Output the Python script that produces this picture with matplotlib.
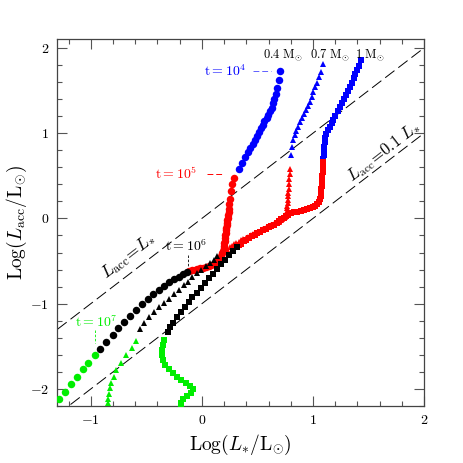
import numpy as np
import matplotlib
matplotlib.use("Agg")
import matplotlib.pyplot as plt
from matplotlib.ticker import MultipleLocator

plt.rcParams['font.family'] = 'serif'
plt.rcParams['font.serif'] = ['cmr10', 'DejaVu Serif']
plt.rcParams['mathtext.fontset'] = 'cm'
plt.rcParams['axes.formatter.use_mathtext'] = True

# 0.4 Msun track (circles)
circ_blue_x = [0.705, 0.69, 0.675, 0.663, 0.652, 0.64, 0.628, 0.613, 0.597, 0.582, 0.563,
               0.547, 0.53, 0.513, 0.495, 0.477, 0.458, 0.437, 0.415, 0.39, 0.362, 0.335]
circ_blue_y = [1.731, 1.62, 1.53, 1.46, 1.40, 1.35, 1.30, 1.255, 1.215, 1.18, 1.146,
               1.10, 1.055, 1.01, 0.965, 0.92, 0.875, 0.83, 0.78, 0.72, 0.655, 0.575]
circ_red_x = [0.29, 0.271, 0.266, 0.253, 0.248, 0.244, 0.240, 0.235, 0.232, 0.229, 0.226,
              0.223, 0.220, 0.217, 0.214, 0.211, 0.208, 0.205, 0.202, 0.199, 0.195, 0.19,
              0.183, 0.175, 0.163, 0.148, 0.13, 0.108, 0.085, 0.06, 0.035, 0.01, -0.015,
              -0.04, -0.065, -0.09, -0.112]
circ_red_y = [0.48, 0.406, 0.319, 0.230, 0.172, 0.11, 0.07, 0.04, 0.01, -0.02, -0.05,
              -0.08, -0.11, -0.14, -0.17, -0.20, -0.23, -0.26, -0.29, -0.32, -0.35, -0.38,
              -0.41, -0.44, -0.47, -0.495, -0.515, -0.53, -0.545, -0.557, -0.567, -0.576,
              -0.584, -0.592, -0.600, -0.607, -0.614]
circ_black_x = [-0.132, -0.17, -0.208, -0.253, -0.298, -0.343, -0.388, -0.436, -0.484,
                -0.537, -0.590, -0.644, -0.698, -0.751, -0.804, -0.86, -0.915]
circ_black_y = [-0.630, -0.655, -0.686, -0.713, -0.745, -0.787, -0.834, -0.886, -0.939,
                -1.005, -1.076, -1.145, -1.213, -1.290, -1.368, -1.45, -1.532]
circ_green_x = [-0.966, -1.021, -1.071, -1.125, -1.177, -1.231, -1.285, -1.34]
circ_green_y = [-1.606, -1.692, -1.770, -1.856, -1.945, -2.031, -2.121, -2.21]

# 0.7 Msun track (triangles)
tri_blue_x = [1.088, 1.072, 1.051, 1.036, 1.021, 1.003, 0.988, 0.970, 0.952, 0.937,
              0.921, 0.903, 0.885, 0.867, 0.849, 0.835, 0.819, 0.810, 0.801]
tri_blue_y = [1.809, 1.723, 1.653, 1.594, 1.536, 1.477, 1.419, 1.368, 1.318, 1.271,
              1.224, 1.178, 1.126, 1.076, 1.029, 0.979, 0.920, 0.834, 0.749]
tri_red_x = [0.793, 0.79, 0.786, 0.783, 0.78, 0.778, 0.776, 0.774, 0.772, 0.77, 0.768,
             0.766, 0.764, 0.76, 0.752, 0.74, 0.725, 0.71, 0.69, 0.665, 0.645, 0.62,
             0.595, 0.575, 0.553, 0.53, 0.508, 0.485, 0.462, 0.44, 0.418, 0.395, 0.372,
             0.35, 0.33, 0.31, 0.29, 0.27, 0.25, 0.23, 0.21, 0.19, 0.17]
tri_red_y = [0.581, 0.523, 0.464, 0.406, 0.35, 0.30, 0.26, 0.22, 0.185, 0.15, 0.12,
             0.09, 0.065, 0.04, 0.02, 0.0, -0.012, -0.023, -0.036, -0.052, -0.066, -0.082,
             -0.097, -0.11, -0.125, -0.14, -0.155, -0.17, -0.185, -0.20, -0.214, -0.228,
             -0.243, -0.257, -0.272, -0.286, -0.30, -0.318, -0.336, -0.355, -0.375,
             -0.394, -0.413]
tri_black_x = [0.14, 0.105, 0.073, 0.033, -0.005, -0.048, -0.087, -0.127, -0.165, -0.21,
               -0.255, -0.30, -0.345, -0.39, -0.435, -0.48, -0.52, -0.555]
tri_black_y = [-0.445, -0.485, -0.523, -0.561, -0.60, -0.645, -0.69, -0.74, -0.785, -0.84,
               -0.89, -0.94, -0.99, -1.04, -1.095, -1.16, -1.23, -1.30]
tri_green_x = [-0.591, -0.629, -0.680, -0.725, -0.771, -0.795, -0.816, -0.831, -0.840,
               -0.846, -0.849]
tri_green_y = [-1.435, -1.517, -1.602, -1.692, -1.778, -1.856, -1.926, -1.992, -2.058,
               -2.121, -2.167]

# 1 Msun track (squares)
sq_blue_x = [1.434, 1.413, 1.397, 1.382, 1.368, 1.350, 1.334, 1.313, 1.298, 1.277, 1.259,
             1.241, 1.223, 1.201, 1.183, 1.169, 1.151, 1.133, 1.120, 1.111, 1.106, 1.102,
             1.099, 1.097, 1.093]
sq_blue_y = [1.856, 1.789, 1.739, 1.692, 1.641, 1.594, 1.544, 1.497, 1.447, 1.400, 1.349,
             1.302, 1.255, 1.205, 1.158, 1.115, 1.076, 1.037, 0.991, 0.944, 0.892, 0.842,
             0.795, 0.745, 0.698]
sq_red_x = [1.092, 1.09, 1.088, 1.086, 1.084, 1.082, 1.08, 1.078, 1.075, 1.072, 1.068,
            1.062, 1.052, 1.04, 1.02, 1.0, 0.975, 0.95, 0.92, 0.89, 0.86, 0.83, 0.80,
            0.775, 0.755, 0.735, 0.715, 0.695, 0.675, 0.65, 0.625, 0.60, 0.575, 0.55,
            0.525, 0.50, 0.475, 0.45, 0.425, 0.40, 0.375, 0.35, 0.33]
sq_red_y = [0.66, 0.62, 0.58, 0.54, 0.50, 0.46, 0.42, 0.38, 0.34, 0.30, 0.26,
            0.225, 0.19, 0.165, 0.145, 0.13, 0.118, 0.108, 0.098, 0.09, 0.08, 0.07, 0.058,
            0.045, 0.03, 0.01, -0.012, -0.035, -0.055, -0.075, -0.09, -0.105, -0.12, -0.14,
            -0.16, -0.175, -0.19, -0.21, -0.23, -0.25, -0.27, -0.295, -0.315]
sq_black_x = [0.320, 0.284, 0.244, 0.205, 0.169, 0.133, 0.097, 0.061, 0.024, -0.012,
              -0.048, -0.087, -0.117, -0.154, -0.186, -0.222, -0.258, -0.283, -0.307]
sq_black_y = [-0.336, -0.382, -0.433, -0.491, -0.538, -0.596, -0.647, -0.698, -0.752, -0.811,
              -0.869, -0.920, -0.979, -1.037, -1.096, -1.161, -1.225, -1.278, -1.337]
sq_green_x = [-0.337, -0.349, -0.355, -0.355, -0.349, -0.328, -0.298, -0.262, -0.222, -0.186,
              -0.147, -0.108, -0.081, -0.096, -0.132, -0.168, -0.186, -0.192]
sq_green_y = [-1.427, -1.485, -1.544, -1.602, -1.661, -1.719, -1.770, -1.816, -1.856, -1.895,
              -1.933, -1.965, -2.004, -2.050, -2.082, -2.121, -2.167, -2.207]

mass_labels = [r"$0.4\ \mathrm{M}_{\odot}$", r"$0.7\ \mathrm{M}_{\odot}$", r"$1\ \mathrm{M}_{\odot}$"]


def draw_track(ax, xs_list, ys_list, marker, size):
    colors = ["blue", "red", "black", "#00ee00"]
    for xs, ys, c in zip(xs_list, ys_list, colors):
        ax.plot(xs, ys, linestyle="none", marker=marker, markersize=size,
                color=c, markeredgewidth=0, zorder=3)


def run():
    fig = plt.figure(figsize=(4.63, 4.63), dpi=100)
    ax = fig.add_axes([0.124, 0.123, 0.792, 0.792])
    ax.set_xlim(-1.3, 2)
    ax.set_ylim(-2.2, 2.1)

    xx = np.array([-1.3, 2.0])
    ax.plot(xx, xx, color="black", lw=0.7, dashes=(12, 5), zorder=1)
    ax.plot(xx, xx - 1, color="black", lw=0.7, dashes=(12, 5), zorder=1)

    draw_track(ax, [circ_blue_x, circ_red_x, circ_black_x, circ_green_x],
               [circ_blue_y, circ_red_y, circ_black_y, circ_green_y], "o", 5.4)
    draw_track(ax, [tri_blue_x, tri_red_x, tri_black_x, tri_green_x],
               [tri_blue_y, tri_red_y, tri_black_y, tri_green_y], "^", 4.8)
    draw_track(ax, [sq_blue_x, sq_red_x, sq_black_x, sq_green_x],
               [sq_blue_y, sq_red_y, sq_black_y, sq_green_y], "s", 3.9)

    # time labels
    ax.text(0.395, 1.73, r"$\mathrm{t}=10^{4}$", color="blue", fontsize=10,
            ha="right", va="center")
    ax.plot([0.46, 0.62], [1.73, 1.73], color="#6060ff", lw=0.7, dashes=(6, 3))
    ax.text(-0.04, 0.526, r"$\mathrm{t}=10^{5}$", color="red", fontsize=10,
            ha="right", va="center")
    ax.plot([0.05, 0.2], [0.526, 0.526], color="red", lw=0.7, dashes=(6, 3))
    ax.text(-0.14, -0.33, r"$\mathrm{t}=10^{6}$", color="black", fontsize=10,
            ha="center", va="center")
    ax.plot([-0.123, -0.123], [-0.43, -0.57], color="black", lw=0.6, dashes=(3, 2))
    ax.text(-0.95, -1.22, r"$\mathrm{t}=10^{7}$", color="#00ee00", fontsize=10,
            ha="center", va="center")
    ax.plot([-0.96, -0.96], [-1.31, -1.46], color="#00ee00", lw=0.6, dashes=(3, 2))

    for xm, lab in zip([0.73, 1.15, 1.51], mass_labels):
        ax.text(xm, 1.912, lab, fontsize=9, ha="center", va="center")

    ax.text(-0.667, -0.444, r"$L_{\rm acc}\!=\!L_{*}$", fontsize=12.5, rotation=37.7,
            rotation_mode="anchor", ha="center", va="center")
    ax.text(1.64, 0.78, r"$L_{\rm acc}\!=\!0.1\ L_{*}$", fontsize=12, rotation=37.7,
            rotation_mode="anchor", ha="center", va="center")

    ax.set_xlabel(r"$\mathrm{Log}(L_{*}/\mathrm{L}_{\odot})$", fontsize=14, labelpad=4)
    ax.set_ylabel(r"$\mathrm{Log}(L_{\rm acc}/\mathrm{L}_{\odot})$", fontsize=14, labelpad=1)

    ax.set_xticks([-1, 0, 1, 2])
    ax.set_yticks([-2, -1, 0, 1, 2])
    ax.xaxis.set_minor_locator(MultipleLocator(0.2))
    ax.yaxis.set_minor_locator(MultipleLocator(0.2))
    ax.tick_params(which="both", direction="in", top=True, right=True,
                   color="#555555", width=0.8, labelsize=10, pad=6)
    ax.tick_params(which="major", length=7)
    ax.tick_params(which="minor", length=3.5)
    for sp in ax.spines.values():
        sp.set_color("#444444")
        sp.set_linewidth(0.9)

    fig.savefig("out.png", dpi=100)


if __name__ == "__main__":
    run()
